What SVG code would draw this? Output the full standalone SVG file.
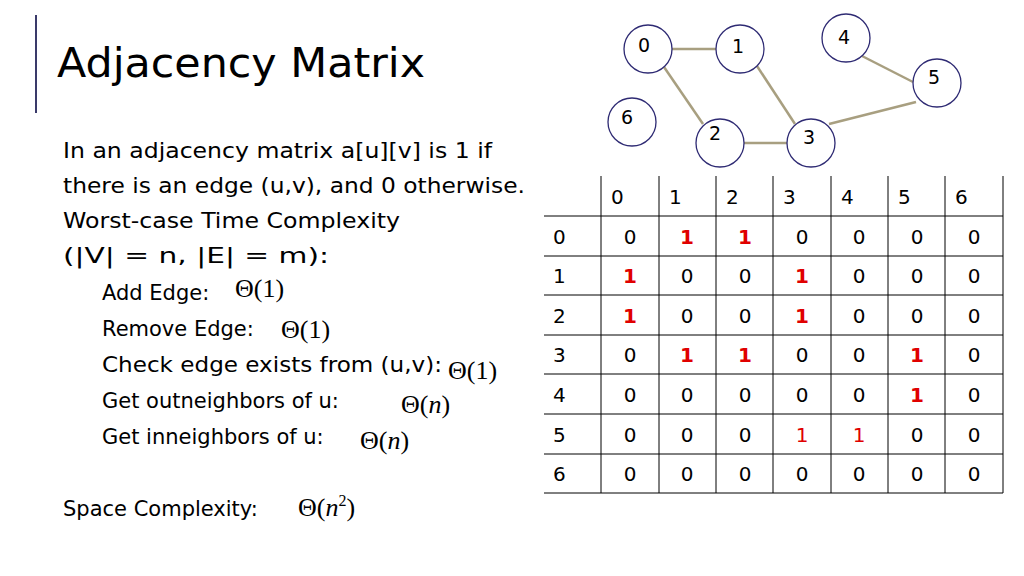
<svg xmlns="http://www.w3.org/2000/svg" width="1024" height="576" viewBox="0 0 1024 576">
<style>
.t{font-family:"DejaVu Sans","Liberation Sans",sans-serif;fill:#000}
.b{font-size:21px}
.m{font-family:"Liberation Serif","DejaVu Serif",serif;font-size:26px}
.n circle{fill:#fff;stroke:#2e2a73;stroke-width:1.3}
.n text{font-family:"DejaVu Sans","Liberation Sans",sans-serif;font-size:19px}
.e line{stroke:#a89f80;stroke-width:2.5}
.g line{stroke:#000;stroke-width:1}
.c{font-family:"DejaVu Sans","Liberation Sans",sans-serif;font-size:20px;text-anchor:middle}
.h{font-family:"DejaVu Sans","Liberation Sans",sans-serif;font-size:20px}
.r{fill:#e00000;font-weight:bold}
</style>
<rect width="1024" height="576" fill="#fff"/>
<line x1="36" y1="15" x2="36" y2="113" stroke="#3a3a6a" stroke-width="2"/>
<text class="t" x="57" y="77" font-size="40" textLength="368" lengthAdjust="spacingAndGlyphs">Adjacency Matrix</text>
<g id="text">
<text class="t b" x="63" y="158" textLength="429" lengthAdjust="spacingAndGlyphs">In an adjacency matrix a[u][v] is 1 if</text>
<text class="t b" x="63" y="193" textLength="462" lengthAdjust="spacingAndGlyphs">there is an edge (u,v), and 0 otherwise.</text>
<text class="t b" x="63" y="228" textLength="337" lengthAdjust="spacingAndGlyphs">Worst-case Time Complexity</text>
<text class="t b" x="63" y="263" textLength="266" lengthAdjust="spacingAndGlyphs">(|V| = n, |E| = m):</text>
<text class="t b" x="102" y="300">Add Edge: <tspan class="m" x="235" y="297">Θ(1)</tspan></text>
<text class="t b" x="102" y="336">Remove Edge: <tspan class="m" x="281" y="338">Θ(1)</tspan></text>
<text class="t b" x="102" y="372" textLength="340" lengthAdjust="spacingAndGlyphs">Check edge exists from (u,v):</text>
<text class="t m" x="448" y="379">Θ(1)</text>
<text class="t b" x="102" y="408">Get outneighbors of u: <tspan class="m" x="401" y="413">Θ(<tspan font-style="italic">n</tspan>)</tspan></text>
<text class="t b" x="102" y="444">Get inneighbors of u: <tspan class="m" x="360" y="449">Θ(<tspan font-style="italic">n</tspan>)</tspan></text>
<text class="t b" x="63" y="516">Space Complexity: <tspan class="m" x="298">Θ(<tspan font-style="italic">n</tspan><tspan font-size="16" dy="-10">2</tspan><tspan dy="10">)</tspan></tspan></text>
</g>
<g id="connectors" class="e">
<line x1="672" y1="49" x2="716" y2="49"/>
<line x1="664" y1="67" x2="703" y2="124"/>
<line x1="757" y1="66" x2="795" y2="124"/>
<line x1="744" y1="143" x2="787" y2="143"/>
<line x1="829" y1="124" x2="916" y2="102"/>
<line x1="862" y1="56" x2="913" y2="82"/>
</g>
<g id="node0" class="n"><circle cx="648" cy="49" r="24"/><text x="638" y="52">0</text></g>
<g id="node1" class="n"><circle cx="740" cy="49" r="24"/><text x="732" y="53">1</text></g>
<g id="node2" class="n"><circle cx="720" cy="143" r="24"/><text x="709" y="140">2</text></g>
<g id="node3" class="n"><circle cx="811" cy="143" r="24"/><text x="803" y="144">3</text></g>
<g id="node4" class="n"><circle cx="846" cy="38" r="24"/><text x="838" y="44">4</text></g>
<g id="node5" class="n"><circle cx="937" cy="83" r="24"/><text x="928" y="84">5</text></g>
<g id="node6" class="n"><circle cx="632" cy="122" r="24"/><text x="621" y="124">6</text></g>
<g id="matrix">
<g class="g">
<line x1="544" y1="216" x2="1003" y2="216"/><line x1="544" y1="256" x2="1003" y2="256"/><line x1="544" y1="295" x2="1003" y2="295"/><line x1="544" y1="335" x2="1003" y2="335"/><line x1="544" y1="374" x2="1003" y2="374"/><line x1="544" y1="414" x2="1003" y2="414"/><line x1="544" y1="454" x2="1003" y2="454"/><line x1="544" y1="493" x2="1003" y2="493"/>
<line x1="601" y1="176" x2="601" y2="493"/><line x1="659" y1="176" x2="659" y2="493"/><line x1="716" y1="176" x2="716" y2="493"/><line x1="773" y1="176" x2="773" y2="493"/><line x1="831" y1="176" x2="831" y2="493"/><line x1="888" y1="176" x2="888" y2="493"/><line x1="945" y1="176" x2="945" y2="493"/><line x1="1003" y1="176" x2="1003" y2="493"/>
</g>
<g class="h">
<text x="611" y="204">0</text><text x="669" y="204">1</text><text x="726" y="204">2</text><text x="783" y="204">3</text><text x="841" y="204">4</text><text x="898" y="204">5</text><text x="955" y="204">6</text>
<text x="553" y="244">0</text><text x="553" y="283">1</text><text x="553" y="323">2</text><text x="553" y="362">3</text><text x="553" y="402">4</text><text x="553" y="442">5</text><text x="553" y="481">6</text>
</g>
<g class="c">
<text x="630" y="244">0</text><text x="687" y="244" class="r">1</text><text x="745" y="244" class="r">1</text><text x="802" y="244">0</text><text x="859" y="244">0</text><text x="917" y="244">0</text><text x="974" y="244">0</text>
<text x="630" y="283" class="r">1</text><text x="687" y="283">0</text><text x="745" y="283">0</text><text x="802" y="283" class="r">1</text><text x="859" y="283">0</text><text x="917" y="283">0</text><text x="974" y="283">0</text>
<text x="630" y="323" class="r">1</text><text x="687" y="323">0</text><text x="745" y="323">0</text><text x="802" y="323" class="r">1</text><text x="859" y="323">0</text><text x="917" y="323">0</text><text x="974" y="323">0</text>
<text x="630" y="362">0</text><text x="687" y="362" class="r">1</text><text x="745" y="362" class="r">1</text><text x="802" y="362">0</text><text x="859" y="362">0</text><text x="917" y="362" class="r">1</text><text x="974" y="362">0</text>
<text x="630" y="402">0</text><text x="687" y="402">0</text><text x="745" y="402">0</text><text x="802" y="402">0</text><text x="859" y="402">0</text><text x="917" y="402" class="r">1</text><text x="974" y="402">0</text>
<text x="630" y="442">0</text><text x="687" y="442">0</text><text x="745" y="442">0</text><text x="802" y="442" fill="#e00000">1</text><text x="859" y="442" fill="#e00000">1</text><text x="917" y="442">0</text><text x="974" y="442">0</text>
<text x="630" y="481">0</text><text x="687" y="481">0</text><text x="745" y="481">0</text><text x="802" y="481">0</text><text x="859" y="481">0</text><text x="917" y="481">0</text><text x="974" y="481">0</text>
</g>
</g>
</svg>
